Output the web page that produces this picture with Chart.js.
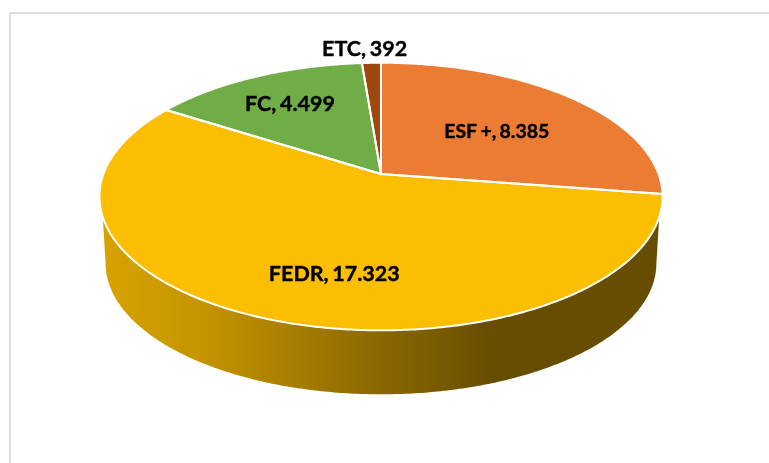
<!DOCTYPE html>
<html>
<head>
<meta charset="utf-8">
<script src="https://cdn.jsdelivr.net/npm/chart.js@4/dist/chart.umd.js"></script>
<style>
  html, body { margin: 0; padding: 0; background: #fff; overflow: hidden; }
  #wrap { position: relative; width: 769px; height: 463px; }
  #frame { position: absolute; left: 9px; top: 12px; right: 0; bottom: 0;
           border-left: 2px solid #dcdcdc; border-top: 2px solid #dcdcdc; }
  canvas { position: absolute; left: 0; top: 0; }
</style>
</head>
<body>
<div id="wrap">
  <div id="frame"></div>
  <canvas id="chart" width="769" height="463"></canvas>
</div>
<script>
const categories = ["ESF +", "FEDR", "FC", "ETC"];
const values = [8385, 17323, 4499, 392];
const colors = ["#ec7c33", "#fcbe00", "#70ad47", "#9e480e"];

// where each label sits: fraction of the radius along the slice middle, then a small nudge
const labelRadius = [0.58, 0.7, 0.7, 1.1];
const labelNudge = [[1, 4], [30, 4], [0, 1], [-6, -4]];
const labelSize = [19.5, 21.5, 21.5, 21.5];

// tilted disc: perspective strength, width stretch, and the lower rim of the wall
const perspective = -0.1685;
const xStretch = 2.135;
const rimDrop = 67.4;
const rimScale = 0.978;
const wallTopFrom = 18.3 * Math.PI / 180;
const wallBottomFrom = 9.7 * Math.PI / 180;

// side wall shading, left to right, as a share of the slice colour
const wallStops = [[0, 0.86], [0.18, 0.78], [0.5, 0.55], [0.7, 0.41], [1, 0.41]];

function project(arc, angle, scale, drop) {
  const u = Math.cos(angle), v = Math.sin(angle);
  const den = 1 + perspective * v;
  return {
    x: arc.x + scale * xStretch * arc.outerRadius * u / den,
    y: arc.y + drop + scale * arc.outerRadius * v / den
  };
}

function traceRim(ctx, arc, from, to, scale, drop) {
  const steps = Math.max(2, Math.ceil(Math.abs(to - from) / 0.01));
  for (let i = 0; i <= steps; i++) {
    const p = project(arc, from + (to - from) * i / steps, scale, drop);
    ctx.lineTo(p.x, p.y);
  }
}

function shade(hex, f) {
  const n = parseInt(hex.slice(1), 16);
  return `rgb(${(n >> 16) * f | 0},${((n >> 8) & 255) * f | 0},${(n & 255) * f | 0})`;
}

const pie3d = {
  id: "pie3d",
  // the library works out the slice angles, this only draws them tilted
  beforeDatasetsDraw(chart) {
    const ctx = chart.ctx;
    const arcs = chart.getDatasetMeta(0).data;
    const first = arcs[0];
    const left = first.x - xStretch * first.outerRadius;
    const right = first.x + xStretch * first.outerRadius;

    ctx.save();

    // wall under the front of the disc
    arcs.forEach((arc, i) => {
      const end = Math.PI - wallTopFrom;
      const a = Math.max(arc.startAngle, wallTopFrom);
      const b = Math.min(arc.endAngle, end);
      if (a >= b) return;
      const g = ctx.createLinearGradient(left, 0, right, 0);
      wallStops.forEach(s => g.addColorStop(s[0], shade(colors[i], s[1])));
      ctx.fillStyle = g;
      ctx.beginPath();
      traceRim(ctx, arc, a, b, 1, 0);
      traceRim(ctx, arc, Math.PI - wallBottomFrom, wallBottomFrom, rimScale, rimDrop);
      ctx.closePath();
      ctx.fill();
    });

    // top face
    ctx.lineJoin = "round";
    ctx.strokeStyle = "#fff";
    ctx.lineWidth = 2;
    arcs.forEach((arc, i) => {
      ctx.beginPath();
      ctx.moveTo(arc.x, arc.y);
      traceRim(ctx, arc, arc.startAngle, arc.endAngle, 1, 0);
      ctx.closePath();
      ctx.fillStyle = colors[i];
      ctx.fill();
    });
    arcs.forEach(arc => {
      ctx.beginPath();
      ctx.moveTo(arc.x, arc.y);
      traceRim(ctx, arc, arc.startAngle, arc.endAngle, 1, 0);
      ctx.closePath();
      ctx.stroke();
    });

    // data labels, with a hairline stroke to get the weight of the original
    ctx.fillStyle = "#000";
    ctx.strokeStyle = "#000";
    ctx.lineWidth = 0.4;
    ctx.textAlign = "center";
    ctx.textBaseline = "middle";
    ctx.wordSpacing = "-1.5px";
    arcs.forEach((arc, i) => {
      const mid = (arc.startAngle + arc.endAngle) / 2;
      const f = labelRadius[i];
      const den = 1 + perspective * Math.sin(mid) * f;
      const x = arc.x + xStretch * arc.outerRadius * f * Math.cos(mid) / den;
      const y = arc.y + arc.outerRadius * f * Math.sin(mid) / den;
      const text = categories[i] + ", " + values[i].toLocaleString("de-DE");
      ctx.font = `bold ${labelSize[i]}px Lato, sans-serif`;
      ctx.fillText(text, x + labelNudge[i][0], y + labelNudge[i][1]);
      ctx.strokeText(text, x + labelNudge[i][0], y + labelNudge[i][1]);
    });

    ctx.restore();
    return false;
  }
};

new Chart(document.getElementById("chart"), {
  type: "pie",
  data: {
    labels: categories,
    datasets: [{ data: values, backgroundColor: colors, borderColor: "#fff", borderWidth: 2 }]
  },
  options: {
    responsive: false,
    animation: false,
    layout: { padding: { left: 0, right: 7, top: 43, bottom: 158 } },
    plugins: { legend: { display: false }, tooltip: { enabled: false } }
  },
  plugins: [pie3d]
});
</script>
</body>
</html>
